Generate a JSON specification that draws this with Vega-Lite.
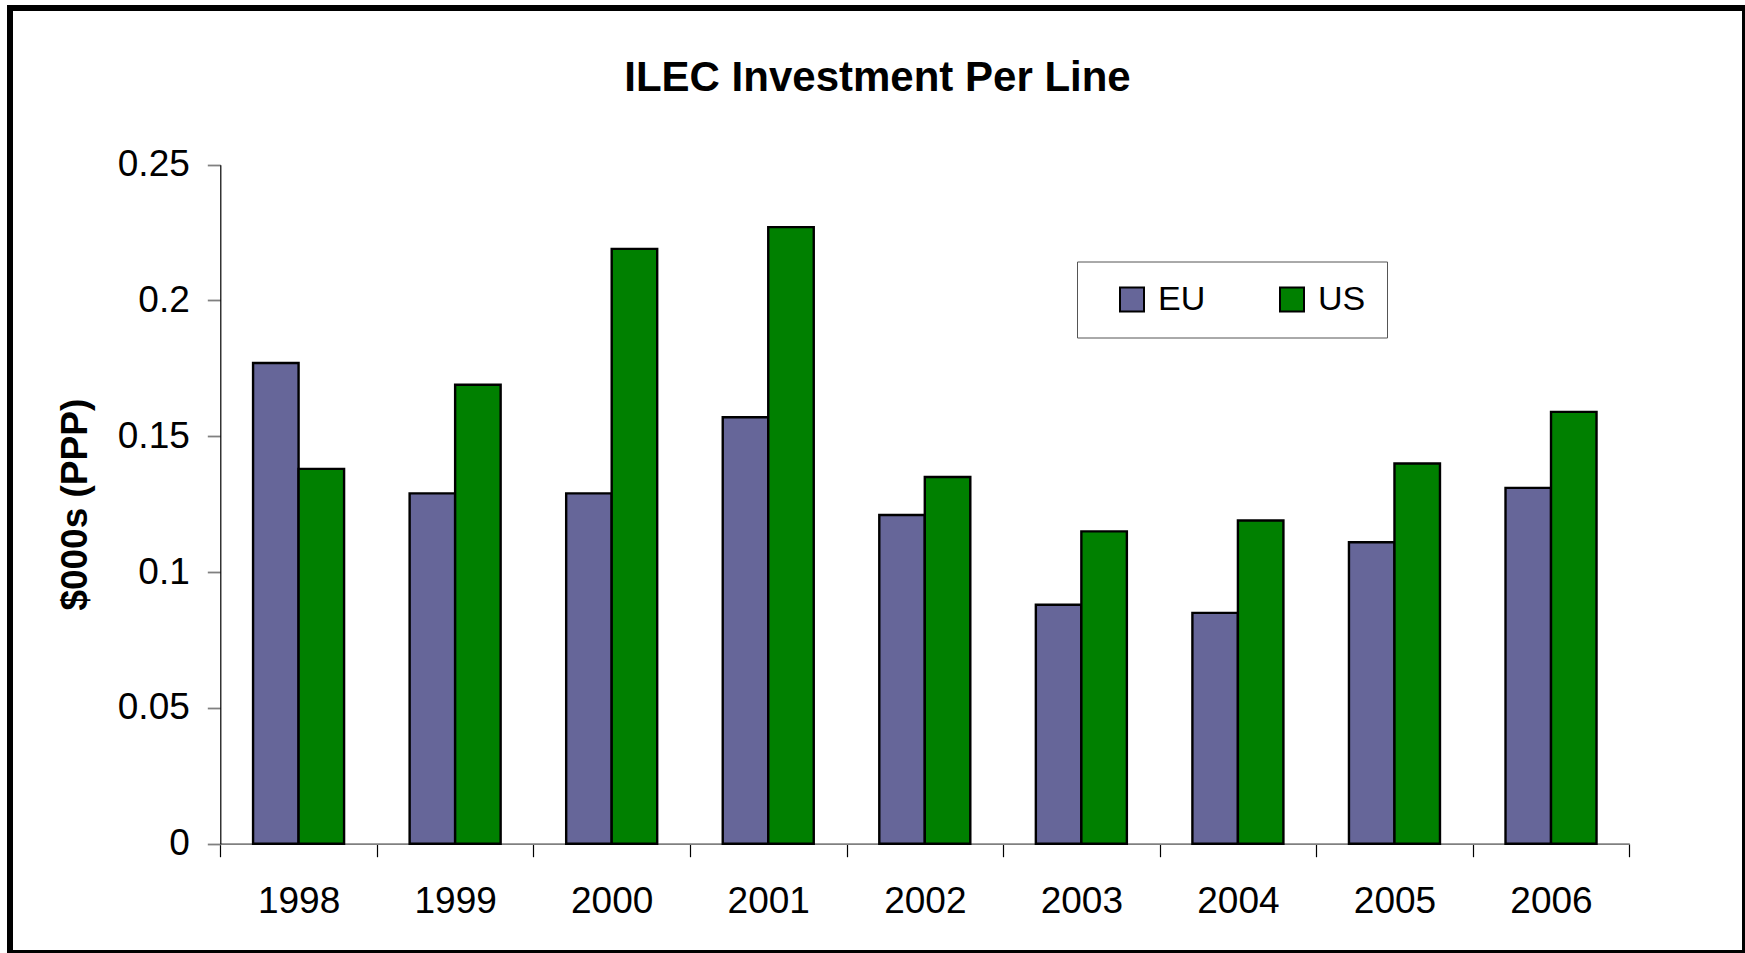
{
  "$schema": "https://vega.github.io/schema/vega-lite/v6.json",
  "width": 1735,
  "height": 945,
  "autosize": {"type": "none"},
  "padding": {"left": 10, "top": 8, "right": 0, "bottom": 0},
  "background": "white",
  "title": {
    "text": "ILEC Investment Per Line",
    "fontSize": 42,
    "fontWeight": "bold",
    "font": "Liberation Sans",
    "color": "black",
    "anchor": "middle",
    "frame": "group",
    "orient": "top",
    "baseline": "alphabetic",
    "offset": -125
  },
  "data": {
    "values": [
      {"year": "1998", "region": "EU", "value": 0.177},
      {"year": "1998", "region": "US", "value": 0.138},
      {"year": "1999", "region": "EU", "value": 0.129},
      {"year": "1999", "region": "US", "value": 0.169},
      {"year": "2000", "region": "EU", "value": 0.129},
      {"year": "2000", "region": "US", "value": 0.219},
      {"year": "2001", "region": "EU", "value": 0.157},
      {"year": "2001", "region": "US", "value": 0.227},
      {"year": "2002", "region": "EU", "value": 0.121},
      {"year": "2002", "region": "US", "value": 0.135},
      {"year": "2003", "region": "EU", "value": 0.088},
      {"year": "2003", "region": "US", "value": 0.115},
      {"year": "2004", "region": "EU", "value": 0.085},
      {"year": "2004", "region": "US", "value": 0.119},
      {"year": "2005", "region": "EU", "value": 0.111},
      {"year": "2005", "region": "US", "value": 0.14},
      {"year": "2006", "region": "EU", "value": 0.131},
      {"year": "2006", "region": "US", "value": 0.159}
    ]
  },
  "mark": {"type": "bar", "stroke": "black", "strokeWidth": 2.4},
  "encoding": {
    "x": {
      "field": "year",
      "type": "nominal",
      "scale": {"range": [210.3, 1619.3], "paddingInner": 0, "paddingOuter": 0},
      "axis": {
        "title": null,
        "orient": "bottom",
        "offset": -109.3,
        "tickBand": "extent",
        "labelAngle": 0,
        "labelFontSize": 37,
        "labelColor": "black",
        "labelPadding": 27,
        "tickSize": 13,
        "tickColor": "black",
        "tickWidth": 1.2,
        "domainColor": "#808080",
        "domainWidth": 1.8,
        "grid": false
      }
    },
    "xOffset": {
      "field": "region",
      "type": "nominal",
      "sort": ["EU", "US"],
      "scale": {"paddingInner": 0, "paddingOuter": 0.72}
    },
    "y": {
      "field": "value",
      "type": "quantitative",
      "scale": {"domain": [0, 0.25], "range": [835.7, 156.7], "nice": false, "zero": true},
      "axis": {
        "title": "$000s (PPP)",
        "titleFontSize": 37,
        "titleFontWeight": "bold",
        "titleColor": "black",
        "titlePadding": 23,
        "orient": "left",
        "offset": -210.3,
        "values": [0, 0.05, 0.1, 0.15, 0.2, 0.25],
        "format": "~g",
        "labelFontSize": 37,
        "labelColor": "black",
        "labelPadding": 18,
        "tickSize": 13,
        "tickColor": "#808080",
        "tickWidth": 1.8,
        "domainColor": "black",
        "domainWidth": 1.2,
        "grid": false
      }
    },
    "color": {
      "field": "region",
      "type": "nominal",
      "sort": ["EU", "US"],
      "scale": {"domain": ["EU", "US"], "range": ["#666699", "#008000"]},
      "legend": {
        "title": null,
        "orient": "none",
        "legendX": 1067,
        "legendY": 253.5,
        "direction": "horizontal",
        "columns": 2,
        "columnPadding": 52,
        "padding": 21,
        "strokeColor": "#555555",
        "fillColor": "white",
        "symbolType": "square",
        "symbolSize": 576,
        "symbolStrokeColor": "black",
        "symbolStrokeWidth": 2,
        "symbolOpacity": 1,
        "symbolOffset": 17,
        "labelFontSize": 34,
        "labelColor": "black",
        "labelOffset": 9
      }
    }
  },
  "config": {
    "font": "Liberation Sans",
    "view": {"stroke": "black", "strokeWidth": 6, "fill": "white"}
  }
}
